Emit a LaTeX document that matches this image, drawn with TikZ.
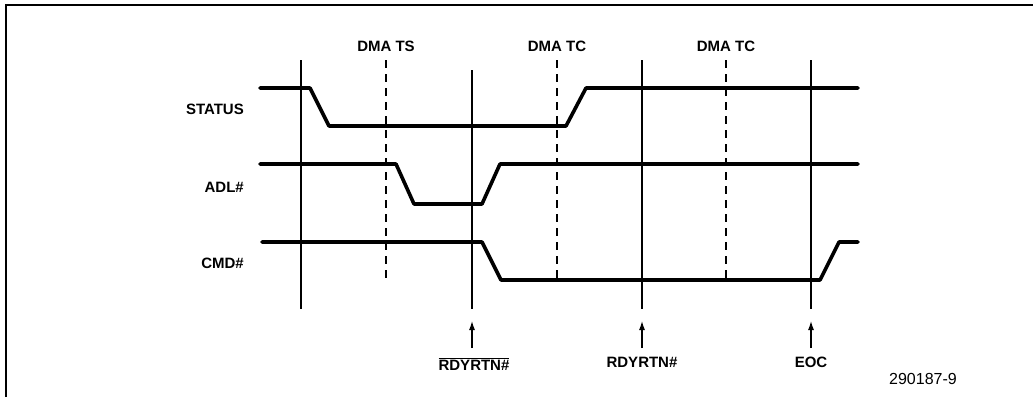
\documentclass[tikz,border=0pt]{standalone}
\usepackage{fontspec}
\setmainfont{Liberation Sans}
\usetikzlibrary{arrows.meta}
\begin{document}
\begin{tikzpicture}[x=1pt,y=-1pt,
  sig/.style={line width=3.6pt,line join=round,line cap=round},
  solidv/.style={line width=1.3pt},
  dashv/.style={line width=1.3pt,dash pattern=on 8pt off 6pt},
  lbl/.style={font=\bfseries\fontsize{15}{17}\selectfont,inner sep=0pt},
  arr/.style={line width=1.2pt,-{Latex[length=9pt,width=6pt]}}]
\useasboundingbox (0,0) rectangle (1033,397);
\fill[white] (0,0) rectangle (1033,397);
% frame (top and left)
\draw[line width=2.4pt] (6,397) -- (6,5) -- (1033,5);
% solid verticals
\coordinate (v1t) at (301,60); \coordinate (v1b) at (301,309);
\coordinate (v2t) at (472,70); \coordinate (v2b) at (472,309);
\coordinate (v3t) at (642,60); \coordinate (v3b) at (642,309);
\coordinate (v4t) at (811,60); \coordinate (v4b) at (811,309);
\draw[solidv] (v1t) -- (v1b);
\draw[solidv] (v2t) -- (v2b);
\draw[solidv] (v3t) -- (v3b);
\draw[solidv] (v4t) -- (v4b);
% dashed verticals
\coordinate (d1t) at (386,60); \coordinate (d1b) at (386,278);
\coordinate (d2t) at (557,60); \coordinate (d2b) at (557,278);
\coordinate (d3t) at (726,60); \coordinate (d3b) at (726,278);
\draw[dashv] (d1t) -- (d1b);
\draw[dashv] (d2t) -- (d2b);
\draw[dashv] (d3t) -- (d3b);
% top labels
\node[lbl] (dts) at (386,46) {DMA TS};
\node[lbl] (dtc1) at (557,46) {DMA TC};
\node[lbl] (dtc2) at (726,46) {DMA TC};
% signal labels
\node[lbl,anchor=east] (st) at (244,109) {STATUS};
\node[lbl,anchor=east] (adl) at (244,187) {ADL\#};
\node[lbl,anchor=east] (cmd) at (244,263) {CMD\#};
% waveforms
\draw[sig] (260,88) -- (310,88) -- (329,126) -- (566,126) -- (586,88) -- (858,88);
\draw[sig] (260,164) -- (396,164) -- (414,204) -- (482,204) -- (500,164) -- (858,164);
\draw[sig] (262,242) -- (482,242) -- (501,280) -- (820,280) -- (839,242) -- (858,242);
% arrows and bottom labels
\coordinate (a1s) at (472,348); \coordinate (a1e) at (472,321);
\coordinate (a2s) at (642,348); \coordinate (a2e) at (642,321);
\coordinate (a3s) at (811,348); \coordinate (a3e) at (811,321);
\draw[arr] (a1s) -- (a1e);
\draw[arr] (a2s) -- (a2e);
\draw[arr] (a3s) -- (a3e);
\node[lbl] (r1) at (474,364) {$\overline{\mbox{\bfseries\fontsize{15}{17}\selectfont RDYRTN\#}}$};
\node[lbl] (r2) at (642,362) {RDYRTN\#};
\node[lbl] (eoc) at (811,362) {EOC};
\node[font=\fontsize{16}{18}\selectfont,inner sep=0pt] (fig) at (923,379) {290187-9};
\end{tikzpicture}
\end{document}
